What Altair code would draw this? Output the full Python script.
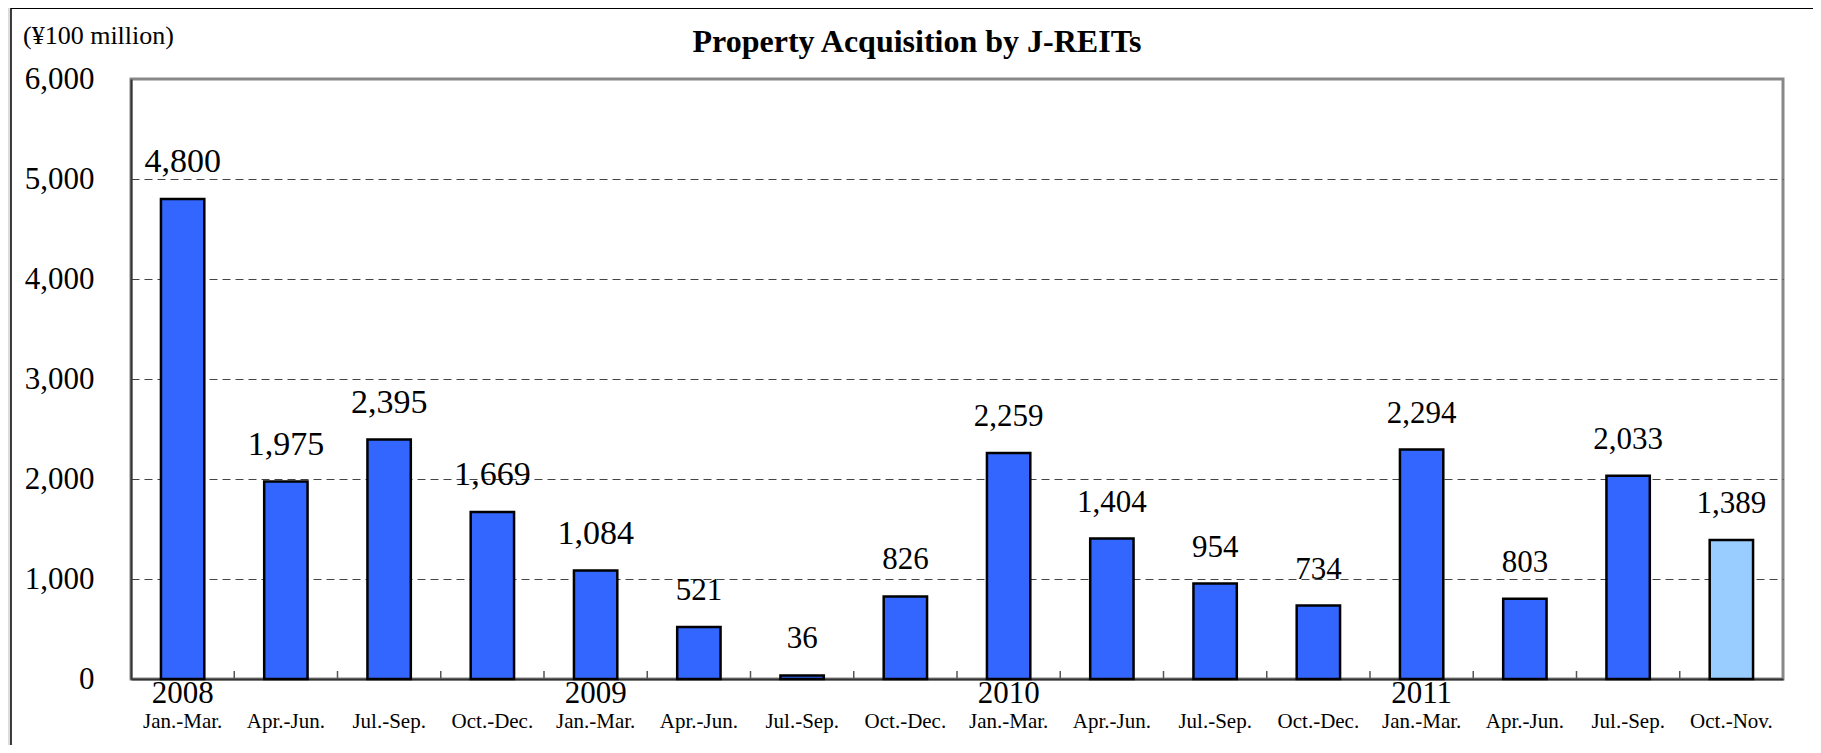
import altair as alt
import pandas as pd

# ---- data ----
years = ["2008"] * 4 + ["2009"] * 4 + ["2010"] * 4 + ["2011"] * 4
quarters = ["Jan.-Mar.", "Apr.-Jun.", "Jul.-Sep.", "Oct.-Dec.",
            "Jan.-Mar.", "Apr.-Jun.", "Jul.-Sep.", "Oct.-Dec.",
            "Jan.-Mar.", "Apr.-Jun.", "Jul.-Sep.", "Oct.-Dec.",
            "Jan.-Mar.", "Apr.-Jun.", "Jul.-Sep.", "Oct.-Nov."]
values = [4800, 1975, 2395, 1669, 1084, 521, 36, 826,
          2259, 1404, 954, 734, 2294, 803, 2033, 1389]
y_ticks = [0, 1000, 2000, 3000, 4000, 5000, 6000]
title_text = "Property Acquisition by J-REITs"
unit_text = "(¥100 million)"

df = pd.DataFrame({"year": years, "quarter": quarters, "value": values})
df["key"] = df["year"] + "|" + df["quarter"]
df["idx"] = list(range(len(df)))
order = list(df["key"])

FONT = "Liberation Serif, Times New Roman, serif"
W, H = 1652, 600
STEP = W / 16

xenc = alt.X(
    "key:N", sort=order,
    scale=alt.Scale(paddingInner=0.58, paddingOuter=0.29),
    axis=alt.Axis(title=None, labelExpr="split(datum.label, '|')[1]", labelAngle=0,
                  labelFont=FONT, labelFontSize=21, labelColor="black",
                  labelBaseline="alphabetic", labelPadding=48,
                  ticks=False, tickSize=0, domainColor="#333333", domainWidth=2,
                  grid=False),
)
yenc = alt.Y(
    "value:Q",
    scale=alt.Scale(domain=[0, 6000], nice=False),
    axis=alt.Axis(title=None, values=y_ticks, format=",.0f", labelFont=FONT,
                  labelFontSize=31, labelColor="black", labelPadding=37,
                  ticks=False, tickSize=0, domainColor="#333333", domainWidth=2,
                  grid=True, gridColor="#444444", gridDash=[8, 5], gridWidth=1,
                  gridOpacity={"condition": {"test": "datum.value === 0 || datum.value === 6000",
                                             "value": 0}, "value": 1}),
)

base = alt.Chart(df)

bars = base.mark_bar(stroke="black", strokeWidth=2.5).encode(
    x=xenc, y=yenc,
    color=alt.condition("datum.quarter === 'Oct.-Nov.'", alt.value("#99CCFF"), alt.value("#3366FF")),
)

labels = base.mark_text(font=FONT, baseline="alphabetic", dy=-27, color="black").encode(
    x=alt.X("key:N", sort=order), y=alt.Y("value:Q"),
    text=alt.Text("value:Q", format=",.0f"),
    size=alt.condition("datum.idx < 5", alt.value(34), alt.value(31)),
)

year_labels = base.transform_filter("datum.quarter === 'Jan.-Mar.'").mark_text(
    font=FONT, fontSize=31, baseline="alphabetic", color="black"
).encode(x=alt.X("key:N", sort=order), y=alt.value(H + 24), text="year:N")

ticks = base.transform_filter("datum.idx > 0").mark_rule(
    xOffset=-STEP / 2, color="#555555", strokeWidth=1.5
).encode(x=alt.X("key:N", sort=order), y=alt.value(H - 8), y2=alt.value(H))

title = alt.Chart(pd.DataFrame({"t": [title_text]})).mark_text(
    font=FONT, fontSize=32, fontWeight="bold", align="center", baseline="alphabetic", color="black"
).encode(x=alt.value(786), y=alt.value(-27), text="t:N")

unit = alt.Chart(pd.DataFrame({"t": [unit_text]})).mark_text(
    font=FONT, fontSize=26, align="left", baseline="alphabetic", color="black"
).encode(x=alt.value(-108), y=alt.value(-35), text="t:N")

one = pd.DataFrame({"a": [0]})
gray_strip = alt.Chart(one).mark_rect(color="#dcdcdc").encode(
    x=alt.value(-124), x2=alt.value(-120), y=alt.value(-80), y2=alt.value(720))
vline = alt.Chart(one).mark_rule(color="black", strokeWidth=1.5).encode(
    x=alt.value(-120), y=alt.value(-71), y2=alt.value(720))
hline = alt.Chart(one).mark_rule(color="black", strokeWidth=2).encode(
    y=alt.value(-71), x=alt.value(-120), x2=alt.value(1720))

chart = alt.layer(
    bars, ticks, labels, year_labels, title, unit, gray_strip, vline, hline
).properties(
    width=W, height=H,
    autosize=alt.AutoSizeParams(type="none"),
    padding={"left": 123, "top": 71, "right": 30, "bottom": 66},
    background="white",
).configure_view(stroke="#888888", strokeWidth=3)

chart.save("out.html", embed_options={"renderer": "svg", "actions": False})
